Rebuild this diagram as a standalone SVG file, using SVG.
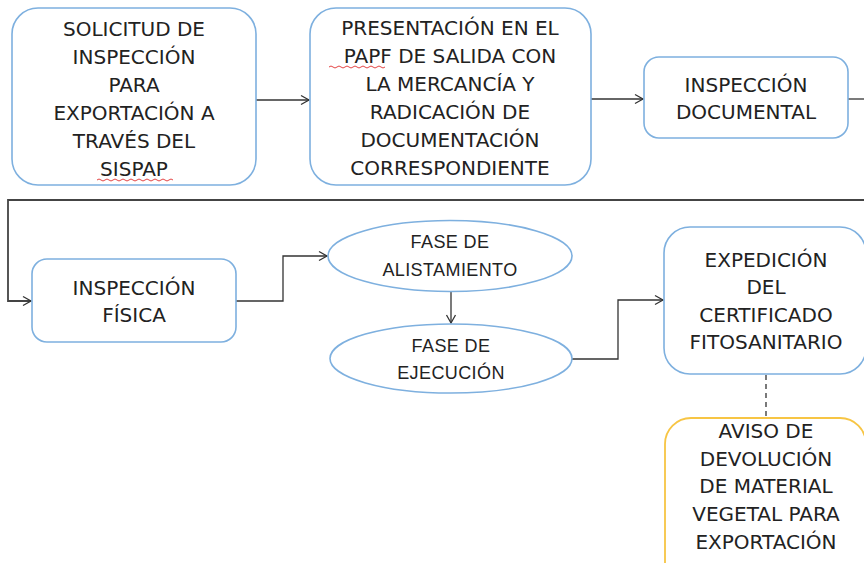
<svg xmlns="http://www.w3.org/2000/svg" width="864" height="563" viewBox="0 0 864 563">
<style>
.box{fill:#fff;stroke:#7eb0df;stroke-width:1.6}
.ybox{fill:#fff;stroke:#f7c544;stroke-width:1.8}
.t{font-family:"DejaVu Sans","Liberation Sans",sans-serif;font-size:20px;fill:#222;text-anchor:middle}
.e{font-family:"Liberation Sans",Arial,sans-serif;font-size:18px;fill:#222;text-anchor:middle;letter-spacing:0.4px}
.c{fill:none;stroke:#333;stroke-width:1.3}
.sq{fill:none;stroke:#e03030;stroke-width:0.9}
</style>
<defs>
<marker id="arr" markerWidth="12" markerHeight="12" refX="10" refY="6" orient="auto" markerUnits="userSpaceOnUse">
<path d="M2,1.5 L10,6 L2,10.5" fill="none" stroke="#333" stroke-width="1.3"/>
</marker>
</defs>
<rect width="864" height="563" fill="#fff"/>
<g id="connectors">
<path class="c" d="M256,100 H309" marker-end="url(#arr)"/>
<path class="c" d="M591,99 H643" marker-end="url(#arr)"/>
<path class="c" d="M848,99 H864"/>
<path d="M864,200 H8 V301 H31" fill="none" stroke="#444" stroke-width="1.8" marker-end="url(#arr)"/>
<path class="c" d="M236,301 H283 V256 H327" marker-end="url(#arr)"/>
<path class="c" d="M451,291 V323" marker-end="url(#arr)"/>
<path class="c" d="M572,359 H618 V300 H663" marker-end="url(#arr)"/>
<path class="c" d="M766,375 V417" stroke-dasharray="5,4"/>
</g>
<g id="n1">
<rect class="box" x="12" y="8" width="244" height="177" rx="26"/>
<text class="t" x="134" y="36">SOLICITUD DE</text>
<text class="t" x="134" y="64">INSPECCIÓN</text>
<text class="t" x="134" y="92">PARA</text>
<text class="t" x="134" y="120">EXPORTACIÓN A</text>
<text class="t" x="134" y="148">TRAVÉS DEL</text>
<text class="t" x="134" y="176">SISPAP</text>
<path class="sq" d="M97,180 q2,-2 4,0 t4,0 t4,0 t4,0 t4,0 t4,0 t4,0 t4,0 t4,0 t4,0 t4,0 t4,0 t4,0 t4,0 t4,0 t4,0 t4,0 t4,0 t4,0"/>
</g>
<g id="n2">
<rect class="box" x="310" y="8" width="281" height="177" rx="26"/>
<text class="t" x="450" y="35">PRESENTACIÓN EN EL</text>
<text class="t" x="450" y="63">PAPF DE SALIDA CON</text>
<text class="t" x="450" y="91">LA MERCANCÍA Y</text>
<text class="t" x="450" y="119">RADICACIÓN DE</text>
<text class="t" x="450" y="147">DOCUMENTACIÓN</text>
<text class="t" x="450" y="175">CORRESPONDIENTE</text>
<path class="sq" d="M329,67 q2,-2 4,0 t4,0 t4,0 t4,0 t4,0 t4,0 t4,0 t4,0 t4,0 t4,0 t4,0 t4,0 t4,0 t4,0"/>
</g>
<g id="n3">
<rect class="box" x="644" y="57" width="204" height="81" rx="15"/>
<text class="t" x="746" y="92">INSPECCIÓN</text>
<text class="t" x="746" y="119">DOCUMENTAL</text>
</g>
<g id="n4">
<rect class="box" x="32" y="259" width="204" height="83" rx="15"/>
<text class="t" x="134" y="295">INSPECCIÓN</text>
<text class="t" x="134" y="322">FÍSICA</text>
</g>
<g id="n5">
<ellipse class="box" cx="450" cy="256" rx="122" ry="35.5"/>
<text class="e" x="450" y="248">FASE DE</text>
<text class="e" x="450" y="276">ALISTAMIENTO</text>
</g>
<g id="n6">
<ellipse class="box" cx="451" cy="358.5" rx="121" ry="34.5"/>
<text class="e" x="451" y="352">FASE DE</text>
<text class="e" x="451" y="379">EJECUCIÓN</text>
</g>
<g id="n7">
<rect class="box" x="664" y="227" width="202" height="147" rx="26"/>
<text class="t" x="766" y="267">EXPEDICIÓN</text>
<text class="t" x="766" y="294">DEL</text>
<text class="t" x="766" y="322">CERTIFICADO</text>
<text class="t" x="766" y="349">FITOSANITARIO</text>
</g>
<g id="n8">
<rect class="ybox" x="665" y="418" width="201" height="190" rx="26"/>
<text class="t" x="766" y="438">AVISO DE</text>
<text class="t" x="766" y="466">DEVOLUCIÓN</text>
<text class="t" x="766" y="493">DE MATERIAL</text>
<text class="t" x="766" y="521">VEGETAL PARA</text>
<text class="t" x="766" y="549">EXPORTACIÓN</text>
</g>
</svg>
